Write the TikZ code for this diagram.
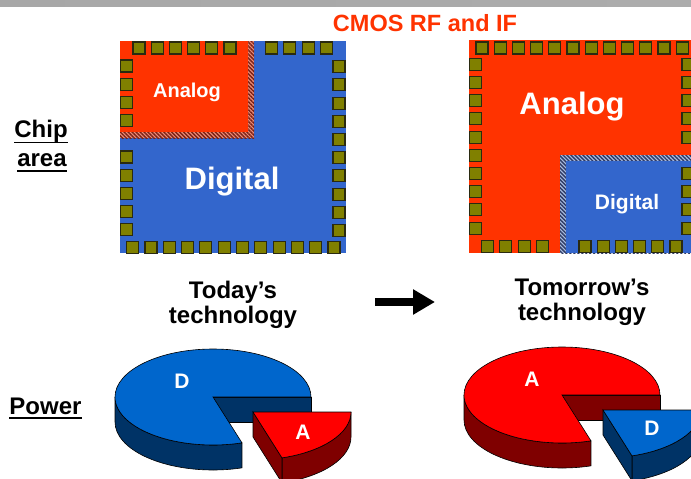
\documentclass[tikz,border=0pt]{standalone}
\usepackage{fontspec}
\setmainfont{Liberation Sans}
\usetikzlibrary{arrows.meta,patterns.meta}

\definecolor{chipRed}{HTML}{FF3300}
\definecolor{chipBlue}{HTML}{3366CC}
\definecolor{padOlive}{HTML}{808000}
\definecolor{padEdge}{HTML}{2A2A10}
\definecolor{pieRed}{HTML}{FF0000}
\definecolor{pieRedDark}{HTML}{7F0000}
\definecolor{pieBlue}{HTML}{0066CC}
\definecolor{pieBlueDark}{HTML}{003366}
\definecolor{hatchRedBase}{HTML}{EC8C78}
\definecolor{hatchRedLine}{HTML}{7A2014}
\definecolor{hatchBlueBase}{HTML}{A8BCE0}
\definecolor{hatchBlueLine}{HTML}{2E3A64}
\definecolor{titleRed}{HTML}{FF3300}

\begin{document}
\begin{tikzpicture}[x=1pt,y=1pt,
  pad/.style={fill=padOlive,draw=padEdge,line width=1.1pt},
  inlabel/.style={text=white,font=\bfseries,inner sep=0pt},
  sidelabel/.style={text=black,font=\fontsize{24}{28}\selectfont\bfseries,inner sep=0pt,anchor=base},
  techlabel/.style={text=black,font=\fontsize{24}{28}\selectfont\bfseries,inner sep=0pt,anchor=base},
  uline/.style={line width=1.6pt},
  hatch/.style={pattern={Lines[angle=-45,distance=2.8pt,line width=1.4pt]}},
  pieedge/.style={draw=black,line width=0.6pt},
  pielabel/.style={text=white,font=\fontsize{21}{24}\selectfont\bfseries,inner sep=0pt}]
\useasboundingbox (0,0) rectangle (691,-479);
\clip (0,0) rectangle (691,-479);

% header bar
\shade[left color=gray!85!black!60,middle color=gray!40,right color=gray!65] (0,0) rectangle (691,-6);

% title
\node[text=titleRed,font=\fontsize{23.5}{27}\selectfont\bfseries,inner sep=0pt,anchor=base] (title) at (425,-31) {CMOS RF and IF};

% ---------- chip of today ----------
\fill[chipBlue] (120,-41) rectangle (346,-253);
\fill[hatchRedBase] (120,-41) rectangle (254,-138);
\fill[hatch,pattern color=hatchRedLine] (120,-41) rectangle (254,-138);
\fill[chipRed] (120,-41) rectangle (248,-132);
\foreach \x in {133,151.2,169.4,187.6,205.8,224,265.7,283.9,302.1,320.3}
  \draw[pad] (\x,-42) rectangle ++(12,-12);
\foreach \y in {60,78.2,96.4,114.6,151,169.2,187.4,205.6,223.8}
  \draw[pad] (120.5,-\y) rectangle ++(12,-12);
\foreach \i in {0,...,11}
  \draw[pad] (126.7+18.3*\i,-241.5) rectangle ++(12,-12);
\foreach \i in {0,...,9}
  \draw[pad] (333,-60.7-18.2*\i) rectangle ++(12,-12);
\node[inlabel,font=\fontsize{20}{24}\selectfont\bfseries] (anaL) at (187,-92) {Analog};
\node[inlabel,font=\fontsize{31}{36}\selectfont\bfseries] (digL) at (232,-182) {Digital};

% ---------- chip of tomorrow ----------
\fill[chipRed] (469,-40) rectangle (700,-253);
\fill[hatchBlueBase] (560,-155) rectangle (700,-253);
\fill[hatch,pattern color=hatchBlueLine] (560,-155) rectangle (700,-253);
\fill[chipBlue] (566,-161) rectangle (700,-253);
\foreach \i in {0,...,11}
  \draw[pad] (476+18.2*\i,-42) rectangle ++(12,-12);
\foreach \i in {0,...,9}
  \draw[pad] (469.5,-58.3-18.2*\i) rectangle ++(12,-12);
\foreach \i in {0,1,2,3,4,6,7,8,9}
  \draw[pad] (682,-58.3-18.2*\i) rectangle ++(12,-12);
\foreach \i in {0,...,3}
  \draw[pad] (481.7+18.2*\i,-240.5) rectangle ++(12,-12);
\foreach \i in {0,...,5}
  \draw[pad] (579+18.2*\i,-240.5) rectangle ++(12,-12);
\node[inlabel,font=\fontsize{31}{36}\selectfont\bfseries] (anaR) at (572,-107) {Analog};
\node[inlabel,font=\fontsize{21}{24}\selectfont\bfseries] (digR) at (627,-204) {Digital};

% ---------- row labels ----------
\node[sidelabel] (chipT) at (41,-137) {Chip};
\node[sidelabel] (areaT) at (42,-166) {area};
\node[sidelabel] (powT) at (45.5,-414) {Power};
\draw[uline] ([yshift=-5.5pt]chipT.base west) -- ([yshift=-5.5pt]chipT.base east);
\draw[uline] ([yshift=-5pt]areaT.base west) -- ([yshift=-5pt]areaT.base east);
\draw[uline] ([yshift=-4pt]powT.base west) -- ([yshift=-4pt]powT.base east);

% ---------- technology captions ----------
\node[techlabel] (today1) at (233,-298) {Today’s};
\node[techlabel] (today2) at (233,-323) {technology};
\node[techlabel] (tomo1) at (582,-295) {Tomorrow’s};
\node[techlabel] (tomo2) at (582,-320) {technology};

\coordinate (arrS) at (375,-302);
\coordinate (arrE) at (435,-302);
\draw[line width=8pt,-{Triangle[length=22pt,width=24pt]}] (arrS) -- (arrE);

% ---------- power pie of today ----------
\begin{scope}[shift={(213,-397)},
  bigtop/.style={fill=pieBlue,pieedge},bigside/.style={fill=pieBlueDark,pieedge},
  smalltop/.style={fill=pieRed,pieedge},smallside/.style={fill=pieRedDark,pieedge}]
  \filldraw[bigside] (180:98 and 48) arc[start angle=180,end angle=287.2,x radius=98,y radius=48]
    -- ++(0,-25) arc[start angle=287.2,end angle=180,x radius=98,y radius=48] -- cycle;
  \filldraw[bigside] (0,0) -- (98,0) -- (98,-25) -- (0,-25) -- cycle;
  \filldraw[bigtop] (0,0) -- (0:98 and 48) arc[start angle=0,end angle=287.2,x radius=98,y radius=48] -- cycle;
  \begin{scope}[shift={(40,-15)}]
    \filldraw[smallside] (287.2:98 and 48) arc[start angle=287.2,end angle=360,x radius=98,y radius=48]
      -- ++(0,-25) arc[start angle=360,end angle=287.2,x radius=98,y radius=48] -- cycle;
    \filldraw[smallside] (0,0) -- (287.2:98 and 48) -- ++(0,-25) -- (0,-25) -- cycle;
    \filldraw[smalltop] (0,0) -- (287.2:98 and 48) arc[start angle=287.2,end angle=360,x radius=98,y radius=48] -- cycle;
  \end{scope}
\end{scope}
\node[pielabel] (pD1) at (182,-381) {D};
\node[pielabel] (pA1) at (303,-432) {A};

% ---------- power pie of tomorrow ----------
\begin{scope}[shift={(562,-395)},
  bigtop/.style={fill=pieRed,pieedge},bigside/.style={fill=pieRedDark,pieedge},
  smalltop/.style={fill=pieBlue,pieedge},smallside/.style={fill=pieBlueDark,pieedge}]
  \filldraw[bigside] (180:98 and 48) arc[start angle=180,end angle=287.2,x radius=98,y radius=48]
    -- ++(0,-25) arc[start angle=287.2,end angle=180,x radius=98,y radius=48] -- cycle;
  \filldraw[bigside] (0,0) -- (98,0) -- (98,-25) -- (0,-25) -- cycle;
  \filldraw[bigtop] (0,0) -- (0:98 and 48) arc[start angle=0,end angle=287.2,x radius=98,y radius=48] -- cycle;
  \begin{scope}[shift={(41,-15)}]
    \filldraw[smallside] (287.2:98 and 48) arc[start angle=287.2,end angle=360,x radius=98,y radius=48]
      -- ++(0,-25) arc[start angle=360,end angle=287.2,x radius=98,y radius=48] -- cycle;
    \filldraw[smallside] (0,0) -- (287.2:98 and 48) -- ++(0,-25) -- (0,-25) -- cycle;
    \filldraw[smalltop] (0,0) -- (287.2:98 and 48) arc[start angle=287.2,end angle=360,x radius=98,y radius=48] -- cycle;
  \end{scope}
\end{scope}
\node[pielabel] (pA2) at (532,-379) {A};
\node[pielabel] (pD2) at (652,-428) {D};
\end{tikzpicture}
\end{document}
